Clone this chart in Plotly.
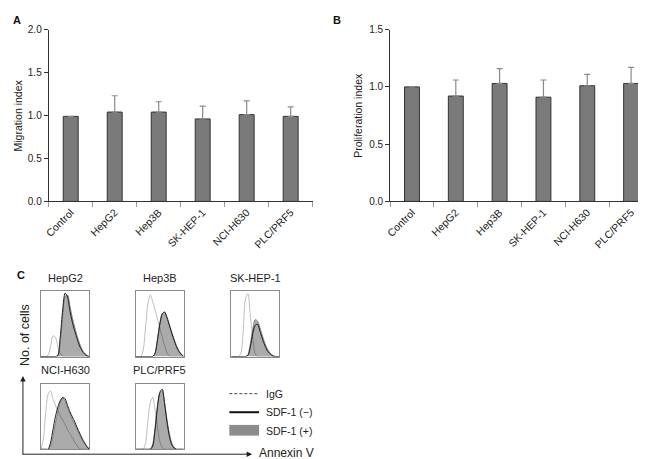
import plotly.graph_objects as go

# ---- A / B: bar data
cell_lines = ['Control', 'HepG2', 'Hep3B', 'SK-HEP-1', 'NCI-H630', 'PLC/PRF5']
migration = [0.99, 1.04, 1.04, 0.96, 1.01, 0.99]
migration_err = [0, 0.19, 0.12, 0.15, 0.16, 0.11]
proliferation = [1.0, 0.92, 1.03, 0.91, 1.01, 1.03]
proliferation_err = [0, 0.14, 0.13, 0.15, 0.10, 0.14]

# ---- C: flow histograms (Annexin V channel vs % of max count)
annexin_ch = [0, 5, 10, 15, 20, 25, 30, 35, 40, 45, 50, 55, 60, 65, 70, 75, 80, 85, 90, 95, 100]

hepg2_igg = [0, 0, 0, 2, 15, 32, 30, 15, 5, 1, 0, 0, 0, 0, 0, 0, 0, 0, 0, 0, 0]
hepg2_neg = [0, 0, 0, 0, 0, 0, 0, 2, 30, 72, 98, 92, 70, 53, 39, 27, 16, 9, 4, 1, 0]
hepg2_pos = [0, 0, 0, 0, 0, 0, 0, 0, 22, 62, 93, 95, 78, 60, 45, 31, 20, 11, 5, 2, 0]

hep3b_igg = [0, 0, 0, 10, 45, 82, 95, 85, 72, 58, 45, 30, 17, 6, 1, 0, 0, 0, 0, 0, 0]
hep3b_neg = [0, 0, 0, 0, 0, 0, 0, 0, 5, 25, 50, 66, 69, 60, 48, 36, 25, 15, 8, 3, 0]
hep3b_pos = [0, 0, 0, 0, 0, 0, 0, 0, 6, 28, 52, 66, 68, 61, 50, 38, 27, 17, 9, 4, 1]

skhep1_igg = [0, 0, 0, 0, 5, 40, 90, 97, 62, 30, 5, 0, 0, 0, 0, 0, 0, 0, 0, 0, 0]
skhep1_neg = [0, 0, 0, 0, 0, 0, 0, 2, 15, 35, 48, 50, 40, 28, 18, 10, 5, 2, 0, 0, 0]
skhep1_pos = [0, 0, 0, 0, 0, 0, 0, 3, 20, 42, 57, 55, 45, 33, 22, 13, 7, 3, 1, 0, 0]

nci_igg = [0, 15, 55, 85, 90, 78, 68, 60, 52, 45, 38, 30, 24, 18, 11, 5, 1, 0, 0, 0, 0]
nci_neg = [0, 0, 0, 0, 10, 30, 50, 65, 75, 80, 78, 68, 58, 50, 42, 33, 25, 17, 10, 4, 0]
nci_pos = [0, 0, 0, 0, 5, 20, 40, 58, 72, 80, 74, 64, 55, 46, 38, 30, 22, 15, 9, 4, 1]

plc_igg = [0, 0, 0, 0, 10, 45, 72, 80, 60, 35, 12, 3, 0, 0, 0, 0, 0, 0, 0, 0, 0]
plc_neg = [0, 0, 0, 0, 0, 0, 0, 5, 30, 65, 88, 93, 70, 42, 20, 7, 2, 0, 0, 0, 0]
plc_pos = [0, 0, 0, 0, 0, 0, 1, 8, 35, 68, 87, 90, 72, 46, 25, 10, 3, 0, 0, 0, 0]

W, H = 646, 459
FONT = 'Arial, Liberation Sans, sans-serif'


def px(x):
    return x / W


def py(y):
    return 1 - y / H


fig = go.Figure()

# bar panels
bar_panels = [
    ('x', 'y', migration, migration_err),
    ('x2', 'y2', proliferation, proliferation_err),
]
for xa, ya, vals, errs in bar_panels:
    fig.add_trace(go.Bar(
        x=cell_lines, y=vals, xaxis=xa, yaxis=ya,
        marker=dict(color='#7a7a7a', line=dict(color='#333333', width=1)),
        error_y=dict(type='data', symmetric=False, array=errs, arrayminus=[0] * len(errs),
                     color='#8a8a8a', thickness=1.2, width=3),
        showlegend=False,
    ))

bar_x = dict(type='category', showline=True, linecolor='#333', linewidth=1,
             ticks='outside', tickson='boundaries', ticklen=5, tickcolor='#999',
             tickangle=-45, tickfont=dict(size=10.5, color='#222'),
             showgrid=False, zeroline=False)
bar_y = dict(showline=True, linecolor='#333', linewidth=1, ticks='outside', ticklen=4,
             tickcolor='#333', dtick=0.5, tickformat='.1f',
             tickfont=dict(size=10, color='#222'), showgrid=False, zeroline=False)

layout = dict(
    width=W, height=H, margin=dict(l=0, r=0, t=0, b=0),
    paper_bgcolor='white', plot_bgcolor='white',
    font=dict(family=FONT, color='#222'),
    bargap=0.66, showlegend=False,
    xaxis=dict(bar_x, domain=[px(36), px(302)], anchor='y'),
    yaxis=dict(bar_y, domain=[py(192), py(16)], range=[0, 2], anchor='x'),
    xaxis2=dict(bar_x, domain=[px(380), px(645)], anchor='y2'),
    yaxis2=dict(bar_y, domain=[py(192), py(16)], range=[0, 1.5], anchor='x2'),
)

# histogram panels
hist_panels = [
    ('HepG2', hepg2_igg, hepg2_neg, hepg2_pos, (28, 77, 284, 351)),
    ('Hep3B', hep3b_igg, hep3b_neg, hep3b_pos, (124, 172, 284, 351)),
    ('SK-HEP-1', skhep1_igg, skhep1_neg, skhep1_pos, (220, 268, 284, 351)),
    ('NCI-H630', nci_igg, nci_neg, nci_pos, (28, 77, 379, 446)),
    ('PLC/PRF5', plc_igg, plc_neg, plc_pos, (124, 172, 379, 446)),
]

annotations = []
for i, (name, igg, neg, pos, (x0, x1, y0, y1)) in enumerate(hist_panels):
    n = i + 3
    xa, ya = 'x%d' % n, 'y%d' % n
    fig.add_trace(go.Scatter(x=annexin_ch, y=pos, xaxis=xa, yaxis=ya, mode='lines',
                             fill='tozeroy', fillcolor='#ababab',
                             line=dict(color='#6e6e6e', width=0.8, shape='spline', smoothing=0.8)))
    fig.add_trace(go.Scatter(x=annexin_ch, y=neg, xaxis=xa, yaxis=ya, mode='lines',
                             line=dict(color='#1e1e1e', width=1, shape='spline', smoothing=0.8)))
    # translucent so it reads light on white and darker across the filled curve
    fig.add_trace(go.Scatter(x=annexin_ch, y=igg, xaxis=xa, yaxis=ya, mode='lines',
                             line=dict(color='rgba(0,0,0,0.25)', width=1, shape='spline', smoothing=0.8)))
    ax_common = dict(showline=True, mirror=True, linecolor='#8a8a8a', linewidth=1,
                     showticklabels=False, ticks='', showgrid=False, zeroline=False, fixedrange=True)
    layout['xaxis%d' % n] = dict(ax_common, domain=[px(x0), px(x1)], range=[0, 100], anchor=ya)
    layout['yaxis%d' % n] = dict(ax_common, domain=[py(y1), py(y0)], range=[0, 101], anchor=xa)
    annotations.append(dict(text=name, x=px((x0 + x1) / 2), y=py(y0 - 14), xref='paper', yref='paper',
                            showarrow=False, xanchor='center', yanchor='middle',
                            font=dict(size=11, color='#222')))

# panel letters and axis titles
for letter, x, y in [('A', 4, 6), ('B', 327, 6), ('C', 8, 267)]:
    annotations.append(dict(text='<b>%s</b>' % letter, x=px(x), y=py(y), xref='paper', yref='paper',
                            showarrow=False, xanchor='center', yanchor='middle',
                            font=dict(size=11, color='#111')))
for title, x in [('Migration index', 5), ('Proliferation index', 347)]:
    annotations.append(dict(text=title, x=px(x), y=py(104), xref='paper', yref='paper',
                            showarrow=False, textangle=-90, xanchor='center', yanchor='middle',
                            font=dict(size=10.5, color='#222')))

# C axes arrows
annotations.append(dict(text='', x=px(10), y=py(371), xref='paper', yref='paper',
                        ax=0, ay=80, showarrow=True, arrowhead=2, arrowsize=1.1,
                        arrowwidth=1, arrowcolor='#222'))
annotations.append(dict(text='', x=px(241), y=py(451), xref='paper', yref='paper',
                        ax=-231, ay=0, showarrow=True, arrowhead=2, arrowsize=1.1,
                        arrowwidth=1, arrowcolor='#222'))
annotations.append(dict(text='No. of cells', x=px(12), y=py(329), xref='paper', yref='paper',
                        showarrow=False, textangle=-90, xanchor='center', yanchor='middle',
                        font=dict(size=12.5, color='#222')))
annotations.append(dict(text='Annexin V', x=px(246), y=py(450), xref='paper', yref='paper',
                        showarrow=False, xanchor='left', yanchor='middle',
                        font=dict(size=12, color='#222')))

# legend for C
shapes = [
    dict(type='line', xref='paper', yref='paper', x0=px(218), x1=px(248), y0=py(389), y1=py(389),
         line=dict(color='#444', width=1, dash='3px,2px')),
    dict(type='line', xref='paper', yref='paper', x0=px(218), x1=px(248), y0=py(408), y1=py(408),
         line=dict(color='#111', width=2)),
    dict(type='rect', xref='paper', yref='paper', x0=px(218), x1=px(248), y0=py(432), y1=py(421),
         line=dict(width=0), fillcolor='#8c8c8c'),
]
for label, y in [('IgG', 389), ('SDF-1 (\u2212)', 408), ('SDF-1 (+)', 427)]:
    annotations.append(dict(text=label, x=px(253), y=py(y), xref='paper', yref='paper',
                            showarrow=False, xanchor='left', yanchor='middle',
                            font=dict(size=10.5, color='#222')))

layout['annotations'] = annotations
layout['shapes'] = shapes
fig.update_layout(**layout)

fig.write_html("out.html")
